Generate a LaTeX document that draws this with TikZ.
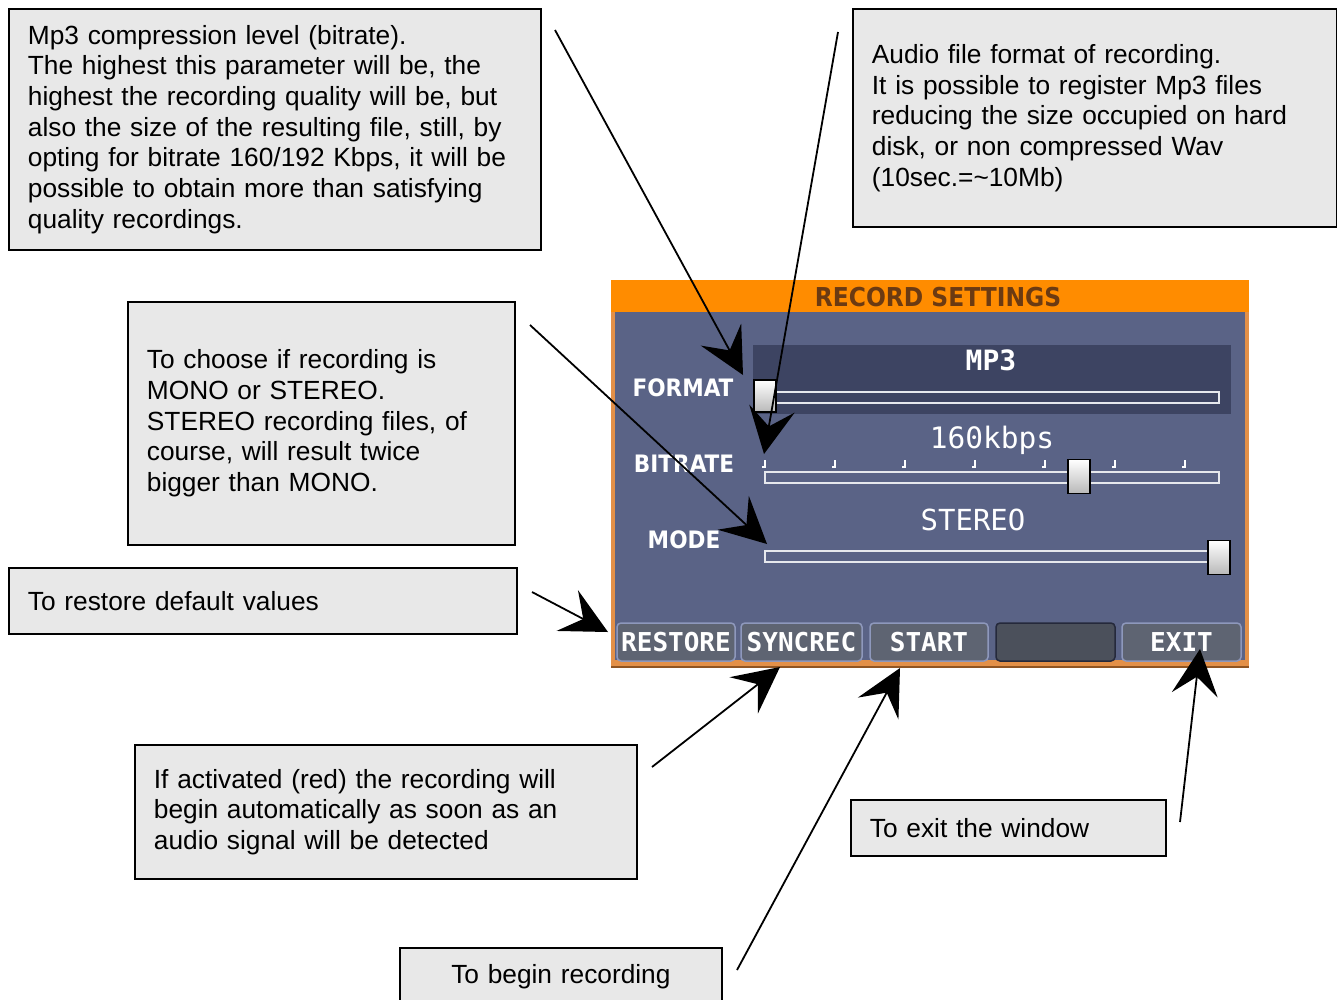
\documentclass[tikz,border=0pt]{standalone}
\usepackage{xcolor}
\usepackage{fontspec}
\setmainfont{Liberation Sans}
\newfontfamily\lcdmono{DejaVu Sans Mono}
\newfontfamily\lcdcond{DejaVu Sans Condensed}
\usepackage{tikz}
\usetikzlibrary{arrows.meta}
\definecolor{boxgray}{HTML}{E8E8E8}
\definecolor{lcdorange}{HTML}{FF8C00}
\definecolor{lcdedge}{HTML}{E39048}
\definecolor{lcdbody}{HTML}{5A6386}
\definecolor{lcddark}{HTML}{3D4462}
\definecolor{lcdtitle}{HTML}{6B3A12}
\definecolor{lcdbutton}{HTML}{5E6472}
\definecolor{lcdrim}{HTML}{8E98BC}

\begin{document}
\begin{tikzpicture}[x=1pt, y=-1pt,
notebox/.style={rectangle, draw=black, line width=1.8pt, fill=boxgray, anchor=north west, align=left, inner xsep=19pt, inner ysep=0pt, font=\fontsize{26.3}{30.7}\selectfont},
callout/.style={line width=1.8pt, -{Stealth[length=46pt, width=46pt, inset=18pt]}},
lcdlabel/.style={text=white, font=\lcdcond\bfseries\fontsize{24}{24}\selectfont},
lcdvalue/.style={text=white, font=\lcdmono\fontsize{29.5}{29.5}\selectfont},
track/.style={rectangle, draw=white!85!lcdbody, line width=1.5pt, minimum width=454pt, minimum height=11pt, inner sep=0pt},
knob/.style={rectangle, draw=black, line width=1.5pt, top color=white, bottom color=gray!55, minimum width=22pt, minimum height=34pt, inner sep=0pt},
lcdbutton/.style={rectangle, rounded corners=4pt, draw=lcdrim, line width=1.5pt, fill=lcdbutton, minimum height=38pt, inner sep=0pt, text=white, font=\lcdmono\bfseries\fontsize{26}{26}\selectfont},
]
\useasboundingbox (0,0) rectangle (1337,999);
\fill[white] (0,0) rectangle (1337,999);

%Screen
\fill[lcdedge] (611,280) rectangle (1249,668);
\fill[lcdorange] (611,280) rectangle (1249,312);
\fill[lcdbody] (615,312) rectangle (1245,660);
\draw[lcdtitle!70!lcdedge, line width=1.5pt] (611,667) -- (1249,667);
\node[font=\lcdcond\bfseries\fontsize{26}{26}\selectfont, text=lcdtitle] (Title) at (938,297) {RECORD SETTINGS};
\fill[lcddark] (753,345) rectangle (1231,414);

\node[lcdlabel] (FormatLabel) at (683,388) {FORMAT};
\node[lcdlabel] (BitrateLabel) at (684,464) {BITRATE};
\node[lcdlabel] (ModeLabel) at (684,540) {MODE};
\node[lcdvalue, font=\lcdmono\bfseries\fontsize{28}{28}\selectfont] (FormatValue) at (991,360) {MP3};
\node[lcdvalue] (BitrateValue) at (992,440) {160kbps};
\node[lcdvalue, font=\lcdmono\fontsize{29}{29}\selectfont] (ModeValue) at (973,520) {STEREO};

\node[track] (FormatTrack) at (992,397.5) {};
\node[track] (BitrateTrack) at (992,477.5) {};
\node[track] (ModeTrack) at (992,556.5) {};
\draw[white, line width=1.5pt] (765,460) -- (765,467) -- (762,467);
\draw[white, line width=1.5pt] (835,460) -- (835,467) -- (832,467);
\draw[white, line width=1.5pt] (905,460) -- (905,467) -- (902,467);
\draw[white, line width=1.5pt] (975,460) -- (975,467) -- (972,467);
\draw[white, line width=1.5pt] (1045,460) -- (1045,467) -- (1042,467);
\draw[white, line width=1.5pt] (1115,460) -- (1115,467) -- (1112,467);
\draw[white, line width=1.5pt] (1185,460) -- (1185,467) -- (1182,467);
\node[knob, minimum height=32pt] (FormatKnob) at (765,396) {};
\node[knob] (BitrateKnob) at (1079,476.5) {};
\node[knob] (ModeKnob) at (1219,557.5) {};

\node[lcdbutton, minimum width=118pt] (RestoreBtn) at (676,642) {RESTORE};
\node[lcdbutton, minimum width=121pt] (SyncBtn) at (801.5,642) {SYNCREC};
\node[lcdbutton, minimum width=118pt] (StartBtn) at (929,642) {START};
\node[lcdbutton, minimum width=119pt, fill=lcdbutton!80!black, draw=lcddark!60!black] (BlankBtn) at (1055.5,642) {};
\node[lcdbutton, minimum width=119pt] (ExitBtn) at (1181.5,642) {EXIT};

%Notes
\node[notebox, text width=494pt, minimum height=241pt] (BitrateNote) at (8,8) {Mp3 compression level (bitrate).\\The highest this parameter will be, the\\highest the recording quality will be, but\\also the size of the resulting file, still, by\\opting for bitrate 160/192 Kbps, it will be\\possible to obtain more than satisfying\\quality recordings.};
\node[notebox, text width=446pt, minimum height=218pt] (FormatNote) at (852,8) {Audio file format of recording.\\It is possible to register Mp3 files\\reducing the size occupied on hard\\disk, or non compressed Wav\\(10sec.=\textasciitilde 10Mb)};
\node[notebox, text width=349pt, minimum height=243pt] (ModeNote) at (127,301) {To choose if recording is\\MONO or STEREO.\\STEREO recording files, of\\course, will result twice\\bigger than MONO.};
\node[notebox, text width=470pt, minimum height=66pt] (RestoreNote) at (8,567) {To restore default values};
\node[notebox, text width=464pt, minimum height=134pt] (SyncNote) at (134,744) {If activated (red) the recording will\\begin automatically as soon as an\\audio signal will be detected};
\node[notebox, text width=277pt, minimum height=56pt] (ExitNote) at (850,799) {To exit the window};
\node[notebox, text width=284pt, minimum height=58pt, align=center] (StartNote) at (399,947) {To begin recording};

%Lines
\coordinate (BitrateTail) at (555,30);
\coordinate (FormatTip) at (743,375);
\coordinate (FormatTail) at (838,32);
\coordinate (BitrateTip) at (764,454);
\coordinate (ModeTail) at (530,325);
\coordinate (ModeTip) at (767,544);
\coordinate (RestoreTail) at (532,592);
\coordinate (RestoreTip) at (608,632);
\coordinate (SyncTail) at (652,767);
\coordinate (SyncTip) at (780,667);
\coordinate (StartTail) at (737,970);
\coordinate (StartTip) at (900,668);
\coordinate (ExitTail) at (1180,822);
\coordinate (ExitTip) at (1200,649);
\draw[callout] (BitrateTail) -- (FormatTip);
\draw[callout] (FormatTail) -- (BitrateTip);
\draw[callout] (ModeTail) -- (ModeTip);
\draw[callout] (RestoreTail) -- (RestoreTip);
\draw[callout] (SyncTail) -- (SyncTip);
\draw[callout] (StartTail) -- (StartTip);
\draw[callout] (ExitTail) -- (ExitTip);
\end{tikzpicture}
\end{document}
